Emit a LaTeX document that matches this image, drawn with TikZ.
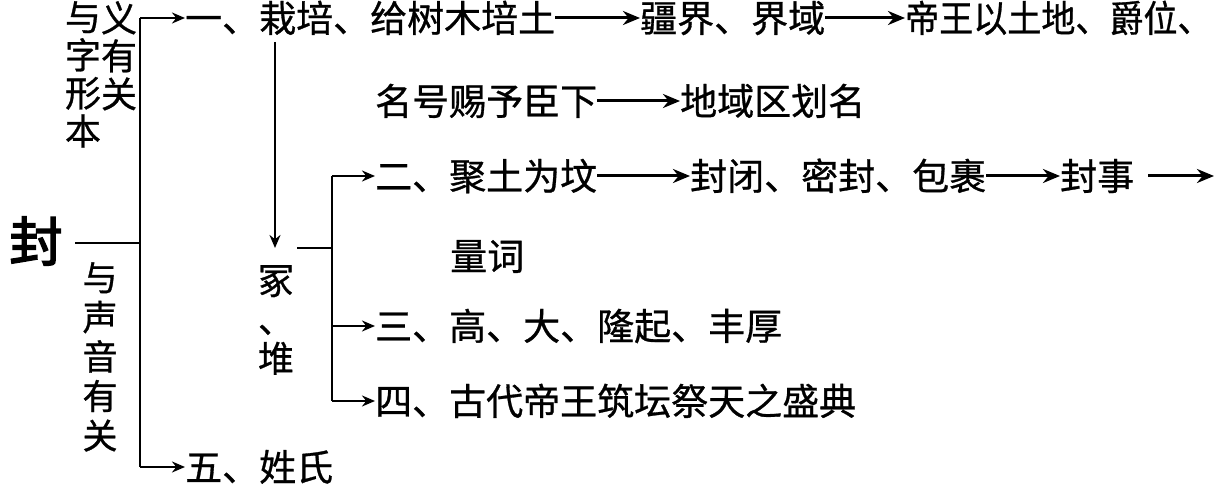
\documentclass[tikz,border=0pt]{standalone}
\usepackage{fontspec}
\usetikzlibrary{arrows.meta}
\newfontfamily\cjk[FakeBold=0.8]{Noto Sans CJK SC}
\newfontfamily\cjkb[FakeBold=3]{Noto Sans CJK SC}
\tikzset{
  txt/.style={inner sep=0, anchor=west, font=\cjk\fontsize{37}{40}\selectfont, text height=32.5pt, text depth=4.5pt},
  vcol/.style={inner sep=0, anchor=north, align=center},
  arr/.style={-{Stealth[length=17pt,width=14pt]}, line width=3pt},
  sarr/.style={-{Stealth[length=13pt,width=11pt]}, line width=2.2pt},
  ln/.style={line width=2.2pt},
}
\begin{document}
\begin{tikzpicture}[x=1pt,y=-1pt]
\useasboundingbox (0,0) rectangle (1218,489);
% root
\node[inner sep=0, font=\cjkb\fontsize{53}{53}\selectfont] (feng) at (36,241) {封};
% left labels
\node[vcol, font=\cjk\fontsize{36}{38}\selectfont] (lab1a) at (83,1) {与\\字\\形\\本};
\node[vcol, font=\cjk\fontsize{36}{38}\selectfont] (lab1b) at (119,1) {义\\有\\关};
\node[vcol, font=\cjk\fontsize{35}{39.5}\selectfont] (lab2) at (100,262) {与\\声\\音\\有\\关};
% main bracket
\coordinate (mt) at (140,18);
\coordinate (mb) at (140,467);
\coordinate (fl) at (75,243);
\draw[ln] (mt) -- (mb);
\draw[ln] (fl) -- (fl -| mt);
% row 1
\node[txt] (r1a) at (185,18) {一、栽培、给树木培土};
\node[txt] (r1b) at (640,18) {疆界、界域};
\node[txt] (r1c) at (905,18) {\scalebox{0.92}[1]{帝王以土地、爵位、}};
\draw[sarr] (mt) -- (r1a.west);
\draw[arr] (r1a.east) -- (r1b.west);
\draw[arr] (r1b.east) -- (r1c.west);
% row 2
\node[txt] (r2a) at (375,101) {名号赐予臣下};
\node[txt] (r2b) at (680,101) {地域区划名};
\draw[arr] (r2a.east) -- (r2b.west);
% vertical arrow and 冢、堆
\coordinate (va) at (275,42);
\coordinate (vb) at (275,248);
\draw[sarr] (va) -- (vb);
\node[vcol, font=\cjk\fontsize{36}{39}\selectfont] (zhong) at (276,265) {冢\\、\\堆};
% second bracket
\coordinate (st) at (332,176);
\coordinate (sb) at (332,401);
\coordinate (ss) at (297,248);
\draw[ln] (st) -- (sb);
\draw[ln] (ss) -- (ss -| st);
% row 二
\node[txt] (r3a) at (375,176) {二、聚土为坟};
\node[txt] (r3b) at (690,176) {封闭、密封、包裹};
\node[txt] (r3c) at (1060,176) {封事};
\coordinate (r3end) at (1214,176);
\draw[sarr] (st) -- (r3a.west);
\draw[arr] (r3a.east) -- (r3b.west);
\draw[arr] (r3b.east) -- (r3c.west);
\draw[arr] ([xshift=14pt]r3c.east) -- (r3end);
\node[txt] (lc) at (450,256) {量词};
% row 三
\node[txt] (r4) at (375,326) {三、高、大、隆起、丰厚};
\draw[sarr] (r4.west -| st) -- (r4.west);
% row 四
\node[txt] (r5) at (375,401) {四、古代帝王筑坛祭天之盛典};
\draw[sarr] (sb) -- (r5.west);
% row 五
\node[txt] (r6) at (185,467) {五、姓氏};
\draw[sarr] (mb) -- (r6.west);
\end{tikzpicture}
\end{document}
